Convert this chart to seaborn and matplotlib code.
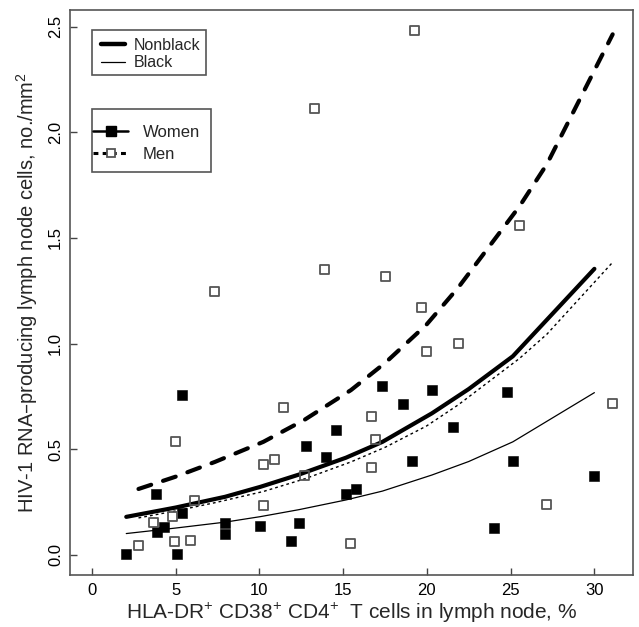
import matplotlib
matplotlib.use("Agg")
import matplotlib.pyplot as plt
import seaborn as sns
from matplotlib.lines import Line2D
from matplotlib.patches import Rectangle

# points (x = % HLA-DR+CD38+CD4+, y = cells/mm2)
women_x = [2.06, 3.86, 3.90, 4.30, 5.11, 5.39, 5.39, 7.96, 7.96, 10.06, 11.90, 12.36, 12.77,
           13.96, 14.59, 15.17, 15.80, 17.35, 18.57, 19.13, 20.30, 21.59, 23.98, 24.78, 25.13, 30.0]
women_y = [0.006, 0.287, 0.110, 0.133, 0.003, 0.757, 0.200, 0.153, 0.101, 0.137, 0.068, 0.151, 0.517,
           0.462, 0.592, 0.289, 0.312, 0.801, 0.715, 0.443, 0.779, 0.606, 0.126, 0.773, 0.446, 0.375]

men_x = [2.79, 3.66, 4.79, 4.93, 4.97, 5.90, 6.14, 7.35, 10.24, 10.24, 10.90, 11.47, 12.71, 13.31,
         13.90, 15.47, 16.67, 16.71, 16.91, 17.53, 19.29, 19.70, 19.98, 21.87, 25.53, 27.17, 31.09]
men_y = [0.044, 0.153, 0.180, 0.062, 0.536, 0.066, 0.257, 1.246, 0.427, 0.233, 0.450, 0.700, 0.377, 2.114,
         1.349, 0.052, 0.655, 0.416, 0.544, 1.317, 2.481, 1.170, 0.964, 1.002, 1.558, 0.237, 0.715]

# fitted curves
women_fit_x = [2.06, 5.0, 7.96, 10.06, 12.36, 15.17, 17.35, 20.30, 22.50, 25.13, 30.0]
women_nonblack_fit = [0.180, 0.224, 0.275, 0.322, 0.380, 0.460, 0.535, 0.670, 0.785, 0.940, 1.354]
women_black_fit = [0.101, 0.127, 0.155, 0.181, 0.214, 0.260, 0.302, 0.378, 0.442, 0.535, 0.768]

men_fit_x = [2.79, 5.0, 7.35, 10.24, 12.71, 15.47, 17.53, 19.98, 21.87, 25.53, 27.17, 31.09]
men_nonblack_fit = [0.312, 0.370, 0.440, 0.535, 0.640, 0.780, 0.910, 1.090, 1.265, 1.650, 1.850, 2.464]
men_black_fit = [0.175, 0.208, 0.247, 0.300, 0.360, 0.440, 0.510, 0.610, 0.710, 0.930, 1.045, 1.385]

x_ticks = [0, 5, 10, 15, 20, 25, 30]
y_ticks = [0.0, 0.5, 1.0, 1.5, 2.0, 2.5]

sns.set_style("ticks")
plt.rcParams["font.family"] = ["Liberation Sans", "DejaVu Sans"]
plt.rcParams["mathtext.default"] = "regular"

fig = plt.figure(figsize=(6.39, 6.27), dpi=100)
ax = fig.add_axes([0.1095, 0.083, 0.881, 0.901])

# curves
sns.lineplot(x=women_fit_x, y=women_nonblack_fit, ax=ax, color="black", linewidth=3.0,
             estimator=None, sort=False)
sns.lineplot(x=women_fit_x, y=women_black_fit, ax=ax, color="black", linewidth=0.9,
             estimator=None, sort=False)
sns.lineplot(x=men_fit_x, y=men_nonblack_fit, ax=ax, color="black", linewidth=3.0,
             estimator=None, sort=False)
ax.lines[-1].set_dashes([3.2, 3.0])
ax.lines[-1].set_dash_capstyle("round")
sns.lineplot(x=men_fit_x, y=men_black_fit, ax=ax, color="black", linewidth=1.0,
             estimator=None, sort=False)
ax.lines[-1].set_dashes([2.0, 2.2])

# points
sns.scatterplot(x=women_x, y=women_y, ax=ax, marker="s", s=48, color="black",
                edgecolor="black", linewidth=0.4, zorder=3)
sns.scatterplot(x=men_x, y=men_y, ax=ax, marker="s", s=42, facecolor="none",
                edgecolor="#555555", linewidth=1.3, zorder=3)

ax.set_xlim(-1.3, 32.3)
ax.set_ylim(-0.095, 2.579)
ax.set_xticks(x_ticks)
ax.set_yticks(y_ticks)
ax.set_yticklabels([f"{v:.1f}" for v in y_ticks], rotation=90, va="center")
ax.tick_params(direction="in", length=5, width=1, colors="#444444", labelcolor="black",
               labelsize=12)
ax.tick_params(axis="x", pad=6)
ax.tick_params(axis="y", pad=5)
for sp in ax.spines.values():
    sp.set_visible(True)
    sp.set_color("#555555")
    sp.set_linewidth(1.2)

ax.set_xlabel("HLA-DR$^{+}$ CD38$^{+}$ CD4$^{+}$  T cells in lymph node, %", fontsize=15, labelpad=2)
ax.set_ylabel("HIV-1 RNA\u2013producing lymph node cells, no./mm$^{2}$", fontsize=14.5, labelpad=6)

# legends: entries without frame, boxes drawn separately (R-style padding)
race_handles = [Line2D([], [], color="black", lw=3.2), Line2D([], [], color="black", lw=0.9)]
leg1 = ax.legend(race_handles, ["Nonblack", "Black"], loc="upper left",
                 bbox_to_anchor=(0.0545, 0.951), fontsize=11.5, frameon=False,
                 handlelength=1.5, handletextpad=0.6, borderpad=0, labelspacing=0.15,
                 borderaxespad=0)
ax.add_artist(leg1)

sex_handles = [Line2D([], [], color="black", lw=1.8, marker="s", ms=6.5, mfc="black", mec="black"),
               Line2D([], [], color="black", lw=2.2, ls=(0, (1.6, 1.4)), marker="s", ms=6,
                      mfc="white", mec="#555555", mew=1.3)]
leg2 = ax.legend(sex_handles, ["Women", "Men"], loc="upper left",
                 bbox_to_anchor=(0.0414, 0.797), fontsize=12, frameon=False,
                 handlelength=2.1, handletextpad=0.85, borderpad=0, labelspacing=0.42,
                 borderaxespad=0)

for x0, y0, w, h in [(0.0385, 0.885, 0.2025, 0.0796), (0.0385, 0.7127, 0.2114, 0.112)]:
    ax.add_patch(Rectangle((x0, y0), w, h, transform=ax.transAxes, fill=False,
                           edgecolor="#555555", linewidth=1.2, zorder=4))

fig.savefig("out.png", dpi=100, facecolor="white")
